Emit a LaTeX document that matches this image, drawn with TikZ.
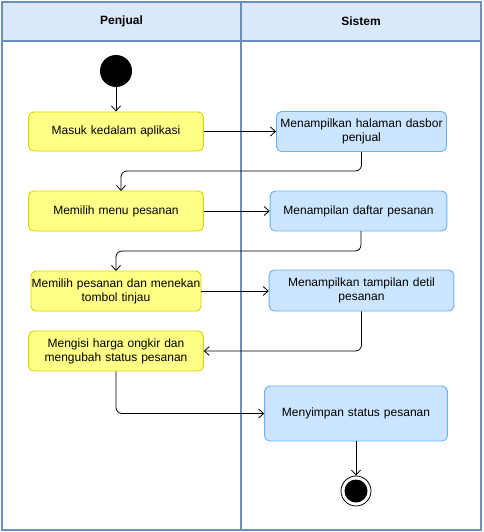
\documentclass[tikz,border=0pt]{standalone}
\usepackage{fontspec}
\setmainfont{Liberation Sans}
\usetikzlibrary{arrows.meta}
\definecolor{hdrfill}{HTML}{DAE8FC}
\definecolor{hdrline}{HTML}{6C8EBF}
\definecolor{yfill}{HTML}{FFFF88}
\definecolor{yline}{HTML}{D6D600}
\definecolor{bfill}{HTML}{CCE5FF}
\definecolor{bline}{HTML}{66B2FF}
\tikzset{
  lane/.style={draw=hdrline, line width=1.6pt},
  hdr/.style={draw=hdrline, fill=hdrfill, line width=1.6pt},
  ybox/.style={draw=yline, fill=yfill, rounded corners=5pt, line width=0.9pt, align=center, font=\fontsize{12}{14}\selectfont},
  bbox/.style={draw=bline, fill=bfill, rounded corners=5pt, line width=0.9pt, align=center, font=\fontsize{12}{14}\selectfont},
  flow/.style={draw=black, line width=0.8pt, rounded corners=6pt, -{Straight Barb[length=5pt,width=9pt]}},
  hdrtext/.style={font=\bfseries\fontsize{12}{14}\selectfont}
}
\begin{document}
\begin{tikzpicture}[x=1pt,y=-1pt]
\useasboundingbox (0,0) rectangle (483,532);
% frame
\draw[hdr] (2,2) rectangle (241,41);
\draw[hdr] (241,2) rectangle (481,41);
\draw[lane] (2,41) rectangle (241,530);
\draw[lane] (241,41) rectangle (481,530);
\node[hdrtext] (h1) at (121.5,21) {Penjual};
\node[hdrtext] (h2) at (361,21) {Sistem};
% start
\node[circle, fill=black, minimum size=32pt, inner sep=0pt] (start) at (116,71) {};
% boxes
\node[ybox, minimum width=170pt, minimum height=39pt, text width=168pt] (a1) at (116,131.5) {Masuk kedalam aplikasi};
\node[bbox, minimum width=169pt, minimum height=40pt, text width=168pt, inner sep=1pt] (b1) at (361.5,131.5) {Menampilkan halaman dasbor\\penjual};
\node[ybox, minimum width=170pt, minimum height=40pt, text width=168pt] (a2) at (116,211) {Memilih menu pesanan};
\node[bbox, minimum width=175pt, minimum height=40pt, text width=170pt] (b2) at (358.5,211) {Menampilan daftar pesanan};
\node[ybox, minimum width=170pt, minimum height=40pt, text width=170pt, inner sep=0pt] (a3) at (116,291) {Memilih pesanan dan menekan\\tombol tinjau};
\node[bbox, minimum width=181pt, minimum height=41pt, text width=178pt] (b3) at (361.5,290.5) {Menampilkan tampilan detil\\pesanan};
\node[ybox, minimum width=170pt, minimum height=40pt, text width=168pt] (a4) at (116,351) {Mengisi harga ongkir dan\\mengubah status pesanan};
\node[bbox, minimum width=180pt, minimum height=55pt, text width=176pt] (b4) at (356,413.5) {Menyimpan status pesanan};
% end
\node[circle, draw=black, line width=0.8pt, fill=white, minimum size=30pt, inner sep=0pt] (endo) at (356,491) {};
\node[circle, fill=black, minimum size=23pt, inner sep=0pt] (endi) at (356,491) {};
% flows
\draw[flow] (start.south) -- (a1.north);
\draw[flow] (a1.east) -- (b1.west |- a1.east);
\draw[flow] (b1.south) |- (121,171) -- (121,191);
\draw[flow] (a2.east) -- (b2.west);
\draw[flow] (361,231) -- (361,251) -| (116,271);
\draw[flow] (a3.east) -- (b3.west |- a3.east);
\draw[flow] (b3.south) |- (a4.east);
\draw[flow] (a4.south) |- (b4.west);
\draw[flow] (b4.south) -- (endo.north);
\end{tikzpicture}
\end{document}
